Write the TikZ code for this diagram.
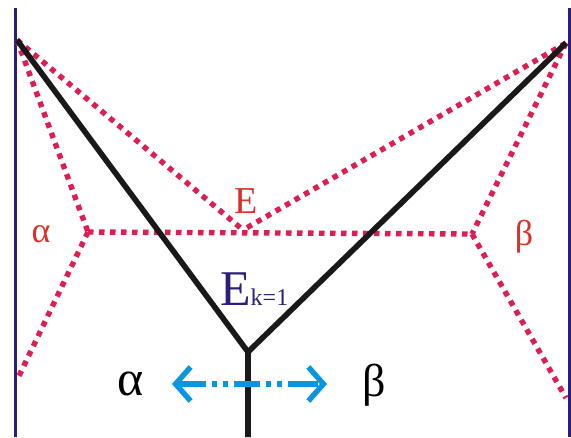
\documentclass[tikz,border=0pt]{standalone}
\usepackage{fontspec}
\setmainfont{Liberation Serif}
\usepackage{tikz}
\usetikzlibrary{arrows.meta}
\definecolor{wallblue}{RGB}{42,30,120}
\definecolor{tiered}{RGB}{222,30,82}
\definecolor{labred}{RGB}{218,48,40}
\definecolor{flowblue}{RGB}{10,150,222}
\tikzset{
  wall/.style={draw=wallblue,line width=3pt},
  phaseline/.style={draw=black!90,line width=5.6pt},
  tieline/.style={draw=tiered,line width=5.4pt,dash pattern=on 5.5pt off 5.5pt},
  flowarrow/.style={draw=flowblue,line width=5.4pt,
    {Straight Barb[length=15pt,width=34pt,line width=5.4pt]}-{Straight Barb[length=15pt,width=34pt,line width=5.4pt]},
    dash pattern=on 28pt off 6pt on 5pt off 6pt on 5pt off 6pt on 26pt off 6pt on 5pt off 6pt on 5pt off 6pt on 30pt off 40pt},
  redlabel/.style={text=labred,inner sep=0pt,anchor=base},
  biglabel/.style={text=black,inner sep=0pt,anchor=base,font=\fontsize{50}{50}\selectfont},
}

\begin{document}
\begin{tikzpicture}[x=1pt,y=-1pt]
  \useasboundingbox (0,0) rectangle (571,437);
  % corners and vertices
  \coordinate (wl top) at (15,8);
  \coordinate (wl bot) at (15,437);
  \coordinate (wr top) at (569,8);
  \coordinate (wr bot) at (569,437);
  \coordinate (tl)   at (17,40);
  \coordinate (tr)   at (566,43);
  \coordinate (va)   at (88,232);
  \coordinate (vb)   at (472,234);
  \coordinate (ve)   at (243,230);
  \coordinate (al)   at (18,378);
  \coordinate (bl)   at (566,398);
  \coordinate (fork) at (248,352);
  \coordinate (stem) at (248,437);
  \coordinate (arrL) at (172,384);
  \coordinate (arrR) at (327,384);

  \draw[wall] (wl top) -- (wl bot);
  \draw[wall] (wr top) -- (wr bot);

  \draw[tieline] (tl) -- (ve);
  \draw[tieline] (tr) -- (ve);
  \draw[tieline] (tl) -- (va);
  \draw[tieline] (va) -- (al);
  \draw[tieline] (va) -- (vb);
  \draw[tieline] (tr) -- (vb);
  \draw[tieline] (vb) -- (bl);

  \draw[phaseline] (tl) -- (fork) -- (stem);
  \draw[phaseline] (tr) -- (fork);

  \draw[flowarrow] (arrL) -- (arrR);

  \node[redlabel,font=\fontsize{36}{36}\selectfont] (alpha)  at (41,242) {α};
  \node[redlabel,font=\fontsize{36}{36}\selectfont] (beta)   at (524,245) {β};
  \node[redlabel,font=\fontsize{38}{38}\selectfont] (ename)  at (246,213) {E};
  \node[inner sep=0pt,anchor=base west,text=wallblue] (ek) at (220,305)
    {\fontsize{50}{50}\selectfont E\fontsize{24}{24}\selectfont k=1};
  \node[biglabel] (alphaL) at (131,395) {α};
  \node[biglabel,font=\fontsize{46}{46}\selectfont] (betaR) at (374,396) {β};
\end{tikzpicture}
\end{document}
